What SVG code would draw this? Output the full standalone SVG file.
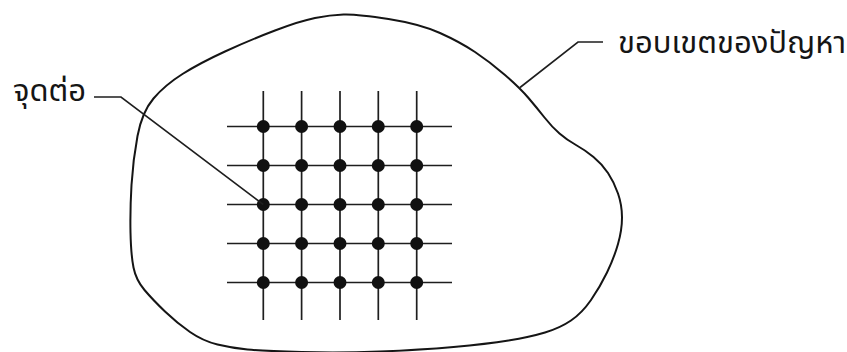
<svg xmlns="http://www.w3.org/2000/svg" width="847" height="352" viewBox="0 0 847 352">
  <style>
    .blob { fill: none; stroke: #151515; stroke-width: 2; stroke-linejoin: round; }
    .grid line { stroke: #1e1e1e; stroke-width: 1.7; }
    .dot { fill: #111; }
    .leader { fill: none; stroke: #1e1e1e; stroke-width: 1.6; }
    .lbl { font-family: "Noto Sans Thai", "Noto Sans", "DejaVu Sans", sans-serif; font-size: 31px; fill: #151515; }
  </style>
  <rect width="847" height="352" fill="#ffffff"/>
  <g id="boundary">
    <path class="blob" d="M 343.5,14.5 Q 357,14 388.5,19 Q 420,24 440,33 Q 460,42 475,52 Q 490,62 505,75 Q 520,88 528.5,98 Q 537,108 544.5,117.5 Q 552,127 559.5,133.5 Q 567,140 576,145 Q 585,150 593.5,157 Q 602,164 608,173 Q 614,182 618,193.5 Q 622,205 622,217.5 Q 622,230 618,244 Q 614,258 607,272.5 Q 600,287 591,300 Q 582,313 571,320.5 Q 560,328 545,332.5 Q 530,337 508.5,340.5 Q 487,344 453.5,347 Q 420,350 380,351.5 Q 340,353 301.5,352 Q 263,351 247.5,349.5 Q 232,348 217.5,344.5 Q 203,341 190,332 Q 177,323 165,311.5 Q 153,300 144.5,290 Q 136,280 133.5,267.5 Q 131,255 130.5,232.5 Q 130,210 131.5,185 Q 133,160 137.5,136 Q 142,112 153.5,98.5 Q 165,85 182.5,74 Q 200,63 225,51.5 Q 250,40 275,30.5 Q 300,21 315,18 Q 330,15 343.5,14.5 Z"/>
  </g>
  <g id="grid" class="grid">
    <line x1="227" y1="126.5" x2="452" y2="126.5"/>
    <line x1="227" y1="165.5" x2="452" y2="165.5"/>
    <line x1="227" y1="204.5" x2="452" y2="204.5"/>
    <line x1="227" y1="243.5" x2="452" y2="243.5"/>
    <line x1="227" y1="282.5" x2="452" y2="282.5"/>
    <line x1="263.3" y1="91" x2="263.3" y2="320"/>
    <line x1="301.6" y1="91" x2="301.6" y2="320"/>
    <line x1="340" y1="91" x2="340" y2="320"/>
    <line x1="378.3" y1="91" x2="378.3" y2="320"/>
    <line x1="416.7" y1="91" x2="416.7" y2="320"/>
  </g>
  <g id="nodes">
    <g id="row1">
      <circle class="dot" cx="263.3" cy="126.5" r="6.5"/><circle class="dot" cx="301.6" cy="126.5" r="6.5"/><circle class="dot" cx="340" cy="126.5" r="6.5"/><circle class="dot" cx="378.3" cy="126.5" r="6.5"/><circle class="dot" cx="416.7" cy="126.5" r="6.5"/>
    </g>
    <g id="row2">
      <circle class="dot" cx="263.3" cy="165.5" r="6.5"/><circle class="dot" cx="301.6" cy="165.5" r="6.5"/><circle class="dot" cx="340" cy="165.5" r="6.5"/><circle class="dot" cx="378.3" cy="165.5" r="6.5"/><circle class="dot" cx="416.7" cy="165.5" r="6.5"/>
    </g>
    <g id="row3">
      <circle class="dot" cx="263.3" cy="204.5" r="6.5"/><circle class="dot" cx="301.6" cy="204.5" r="6.5"/><circle class="dot" cx="340" cy="204.5" r="6.5"/><circle class="dot" cx="378.3" cy="204.5" r="6.5"/><circle class="dot" cx="416.7" cy="204.5" r="6.5"/>
    </g>
    <g id="row4">
      <circle class="dot" cx="263.3" cy="243.5" r="6.5"/><circle class="dot" cx="301.6" cy="243.5" r="6.5"/><circle class="dot" cx="340" cy="243.5" r="6.5"/><circle class="dot" cx="378.3" cy="243.5" r="6.5"/><circle class="dot" cx="416.7" cy="243.5" r="6.5"/>
    </g>
    <g id="row5">
      <circle class="dot" cx="263.3" cy="282.5" r="6.5"/><circle class="dot" cx="301.6" cy="282.5" r="6.5"/><circle class="dot" cx="340" cy="282.5" r="6.5"/><circle class="dot" cx="378.3" cy="282.5" r="6.5"/><circle class="dot" cx="416.7" cy="282.5" r="6.5"/>
    </g>
  </g>
  <g id="connectors">
    <path class="leader" d="M 94,97 L 121,97 L 263.3,204.5"/>
    <path class="leader" d="M 603,42 L 578,42 L 520,87.5"/>
  </g>
  <g id="label-node">
    <text class="lbl" x="13" y="101">จุดต่อ</text>
  </g>
  <g id="label-boundary">
    <text class="lbl" x="618" y="53">ขอบเขตของปัญหา</text>
  </g>
</svg>
